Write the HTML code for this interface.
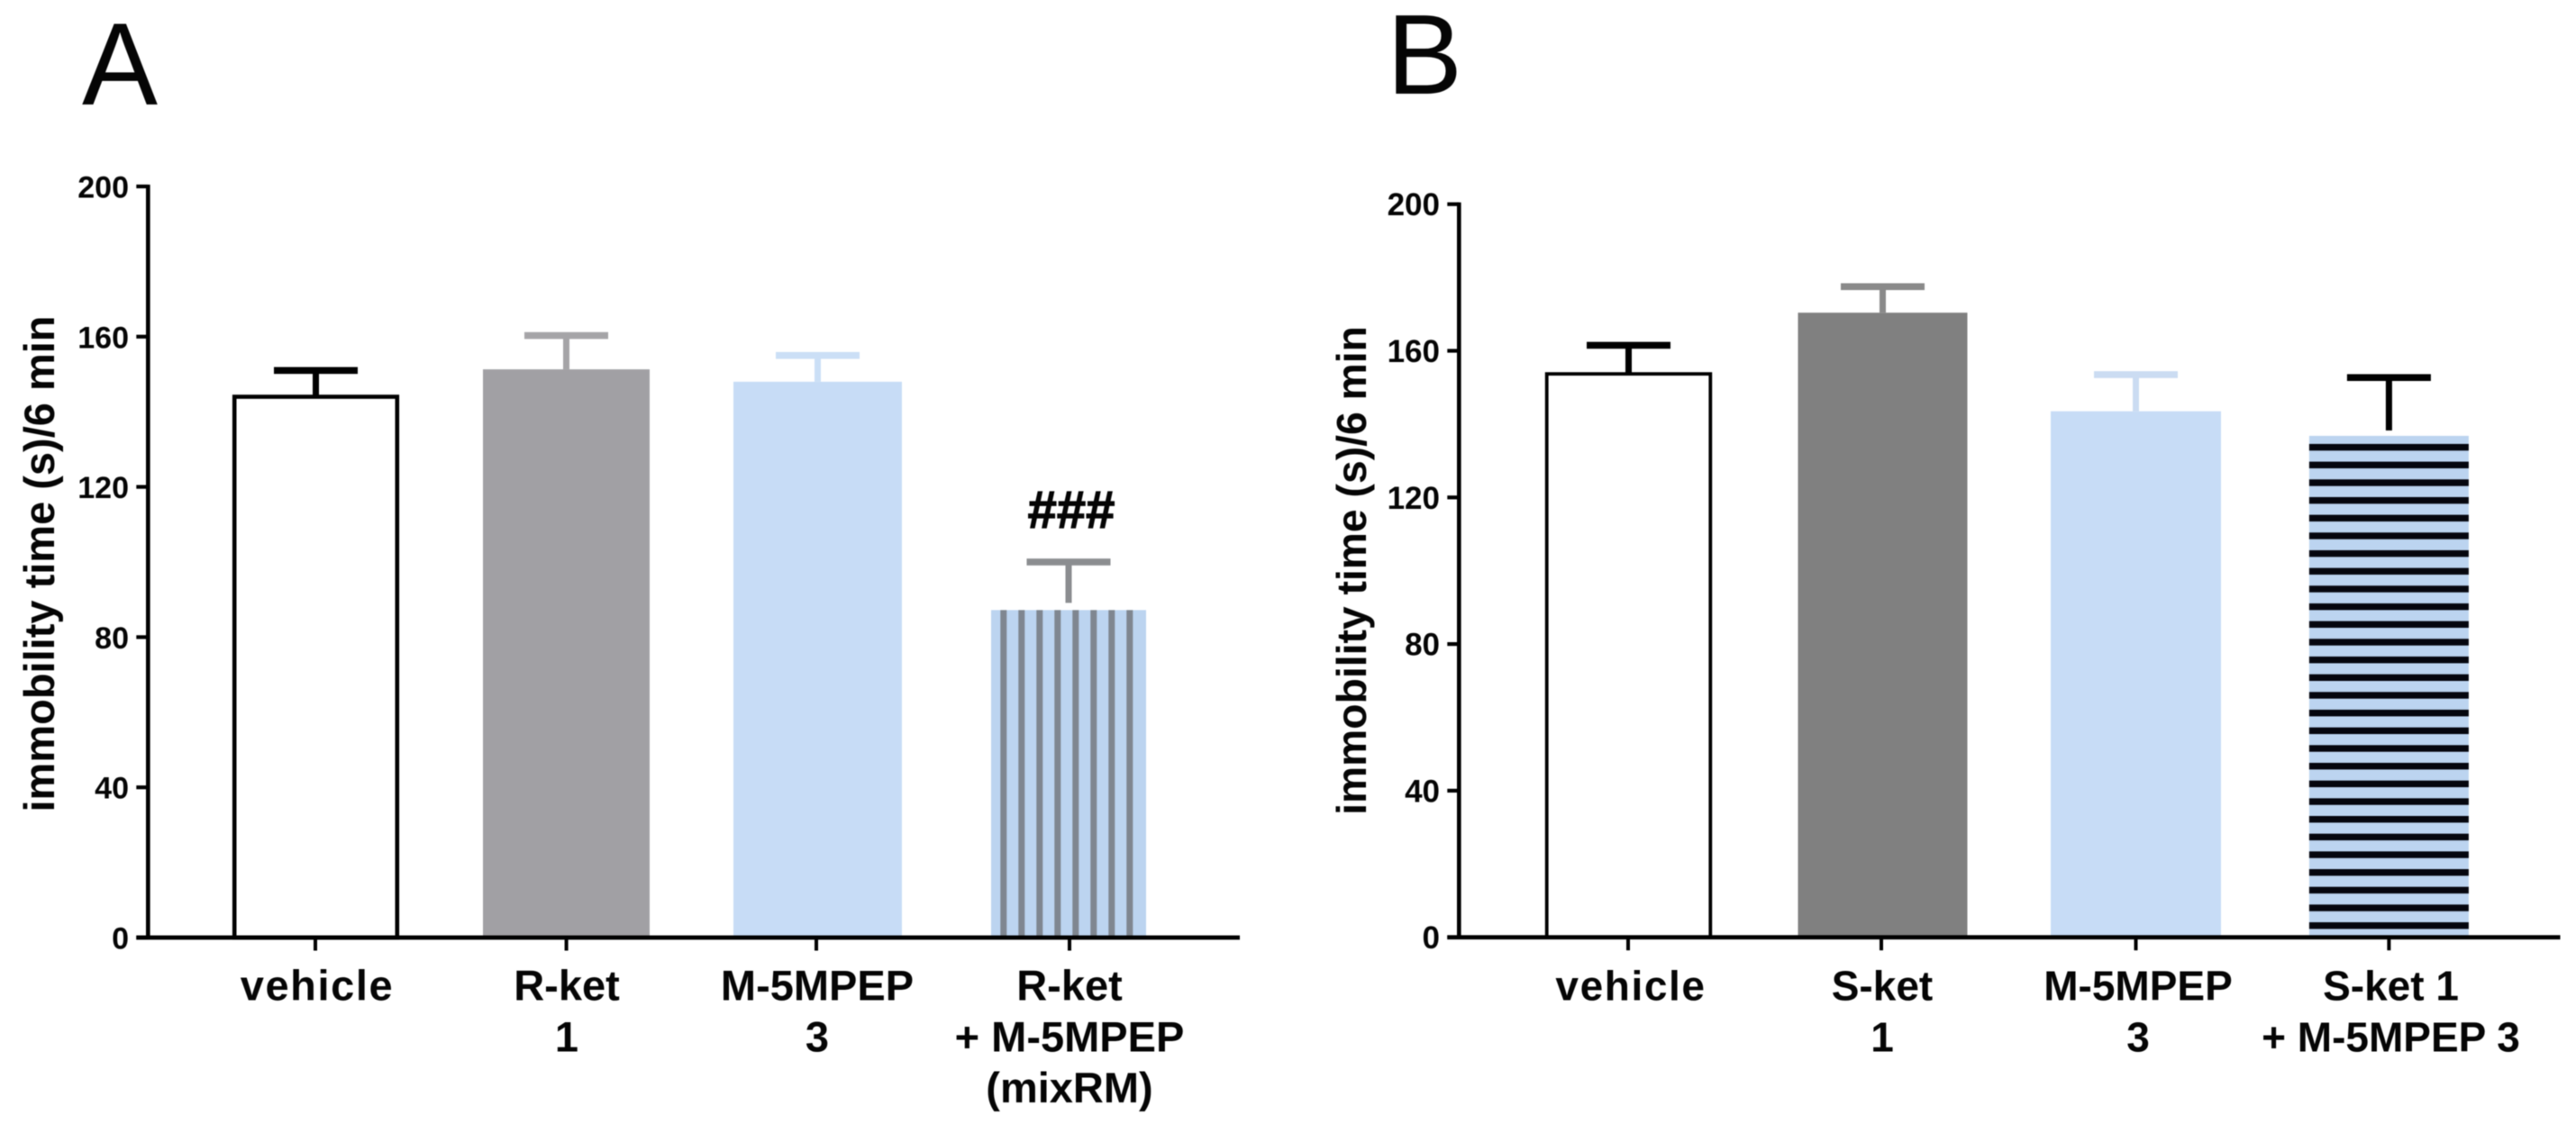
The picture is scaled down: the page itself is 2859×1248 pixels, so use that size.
<!DOCTYPE html>
<html lang="en">
<head>
<meta charset="utf-8">
<title>Immobility time bar charts</title>
<style>
  html, body { margin: 0; padding: 0; background: #fff; }
  svg { display: block; filter: blur(0.5px); }
  text { font-family: "Liberation Sans", sans-serif; fill: #050505; }
</style>
</head>
<body>
<svg id="figure" width="2859" height="1248" viewBox="0 0 2859 1248" xmlns="http://www.w3.org/2000/svg">
  <rect x="0" y="0" width="2859" height="1248" fill="#ffffff"/>
  <text x="91" y="116" font-size="130" textLength="84" lengthAdjust="spacingAndGlyphs">A</text>
  <text x="1539" y="104" font-size="126">B</text>
  <g id="panel-a"></g>
  <g id="panel-b"></g>
</svg>
<script>
// Shared axis values
const yTickValues = [0, 40, 80, 120, 160, 200];
const yTitle = 'immobility time (s)/6 min';

// Panel A data
const categoriesA = ['vehicle', 'R-ket|1', 'M-5MPEP|3', 'R-ket|+ M-5MPEP|(mixRM)'];
const meansA = [144, 151.3, 148, 87.2];
const upperErrorA = [151, 160.3, 155, 100];
const annotationsA = ['', '', '', '###'];

// Panel B data
const categoriesB = ['vehicle', 'S-ket|1', 'M-5MPEP|3', 'S-ket 1|+ M-5MPEP 3'];
const meansB = [153.7, 170.4, 143.5, 136.8];
const upperErrorB = [161.5, 177.5, 153.5, 152.7];
const annotationsB = ['', '', '', ''];

const NS = 'http://www.w3.org/2000/svg';
function make(tag, attrs, parent) {
  const node = document.createElementNS(NS, tag);
  for (const k in attrs) node.setAttribute(k, attrs[k]);
  parent.appendChild(node);
  return node;
}

function drawPanel(root, data, layout) {
  const yScale = v => layout.y0 - (v / 200) * (layout.y0 - layout.y200);
  const xScale = i => layout.firstCenter[i];

  data.means.forEach((mean, i) => {
    const style = layout.barStyles[i];
    const cx = xScale(i);
    const top = yScale(mean);
    const errY = yScale(data.upper[i]);
    const left = cx - style.width / 2;
    const g = make('g', {}, root);
    
    

    const bar = make('rect', {
      x: style.stroke ? left + 2.2 : left,
      y: top,
      width: style.stroke ? style.width - 4.4 : style.width,
      height: layout.y0 - top,
      fill: style.fill,
      stroke: style.stroke || 'none',
      'stroke-width': style.stroke ? layout.barStroke : 0
    }, g);
    
    

    if (style.pattern === 'vertical') {
      for (let x = left + 13.8; x < left + style.width - 3; x += 20) {
        const stripe = make('rect', { x: x - 3.5, y: top, width: 7, height: layout.y0 - top, fill: style.stripe }, g);
        
        
      }
    }
    if (style.pattern === 'horizontal') {
      for (let y = top + 12.7; y + 3.6 < layout.y0 - 2; y += 19.67) {
        const stripe = make('rect', { x: left, y: y - 3.7, width: style.width, height: 7.4, fill: style.stripe }, g);
        
        
      }
    }

    const stemBottom = top - (style.stemGap || 0);
    const stem = make('rect', { x: cx - 3.5, y: errY, width: 7, height: Math.max(0, stemBottom - errY), fill: style.err }, g);
    
    

    const cap = make('rect', { x: cx - 46.5, y: errY - 3.8, width: 93, height: 7.6, fill: style.err }, g);
    
    

    if (data.annotations[i]) {
      const note = make('text', { x: cx + 3, y: errY - 38, 'font-size': 58, 'font-weight': 'bold', 'text-anchor': 'middle', stroke: '#050505', 'stroke-width': 1.2 }, g);
      note.textContent = data.annotations[i];
      
      
    }
  });

  // y axis
  const yAxis = make('rect', { x: layout.axisX - 2.3, y: layout.y200 - 2, width: 4.6, height: layout.y0 - layout.y200 + 4, fill: '#000' }, root);
  
  

  yTickValues.forEach(v => {
    const y = yScale(v);
    const tick = make('rect', { x: layout.axisX - 13, y: y - 2.1, width: 13, height: 4.2, fill: '#000' }, root);
    
    
    const label = make('text', { x: layout.tickLabelRight, y: y + 12.5, 'font-size': layout.tickFont, 'font-weight': 'bold', 'text-anchor': 'end' }, root);
    label.textContent = String(v);
    
    
  });

  const title = make('text', {
    x: 0, y: 0,
    transform: 'translate(' + layout.titleX + ' ' + layout.titleY + ') rotate(-90)',
    'font-size': layout.titleFont, 'font-weight': 'bold', 'text-anchor': 'middle'
  }, root);
  title.textContent = yTitle;
  
  

  // x axis
  const xAxis = make('rect', { x: layout.axisX - 13, y: layout.y0 - 2.4, width: layout.xEnd - layout.axisX + 13, height: 4.8, fill: '#000' }, root);
  
  

  data.categories.forEach((cat, i) => {
    const cx = layout.tickCenter[i];
    const tick = make('rect', { x: cx - 2, y: layout.y0, width: 4, height: 14.5, fill: '#000' }, root);
    
    
    cat.split('|').forEach((line, n) => {
      const label = make('text', {
        x: layout.labelCenter[i],
        y: 1110.7 + n * 56.6,
        'font-size': layout.labelFont,
        'font-weight': 'bold',
        'text-anchor': 'middle',
        'letter-spacing': line === 'vehicle' ? 1.6 : 0
      }, root);
      label.textContent = line;
      
      
    });
  });
}

drawPanel(document.getElementById('panel-a'),
  { categories: categoriesA, means: meansA, upper: upperErrorA, annotations: annotationsA },
  {
    y0: 1041, y200: 207, axisX: 164.3, xEnd: 1376, barStroke: 4.6,
    firstCenter: [350.5, 628.5, 907.5, 1186],
    tickCenter: [350, 628.6, 906, 1187],
    labelCenter: [352, 629, 907, 1187],
    tickLabelRight: 143, tickFont: 34, titleX: 60, titleY: 626, titleFont: 47, labelFont: 47,
    barStyles: [
      { width: 185, fill: '#ffffff', stroke: '#000000', err: '#000000' },
      { width: 185, fill: '#a1a0a4', err: '#a5a4a7' },
      { width: 187, fill: '#c7dcf6', err: '#cbdff6' },
      { width: 172, fill: '#bcd4f0', err: '#8b8d90', pattern: 'vertical', stripe: '#7f8690', stemGap: 8 }
    ]
  });

drawPanel(document.getElementById('panel-b'),
  { categories: categoriesB, means: meansB, upper: upperErrorB, annotations: annotationsB },
  {
    y0: 1040.7, y200: 226.7, axisX: 1619.3, xEnd: 2841.5, barStroke: 3.8,
    firstCenter: [1807.5, 2089.5, 2370.5, 2651.4],
    tickCenter: [1807, 2088, 2370.5, 2651.4],
    labelCenter: [1810, 2089, 2373, 2653.5],
    tickLabelRight: 1598, tickFont: 35, titleX: 1516, titleY: 633.5, titleFont: 46.3, labelFont: 46,
    barStyles: [
      { width: 186, fill: '#ffffff', stroke: '#000000', err: '#000000' },
      { width: 188, fill: '#808080', err: '#8a8a8a' },
      { width: 189, fill: '#c7dcf6', err: '#cbdcf2' },
      { width: 177, fill: '#bcd4f0', err: '#000000', pattern: 'horizontal', stripe: '#05060e', stemGap: 6 }
    ]
  });
</script>
</body>
</html>
